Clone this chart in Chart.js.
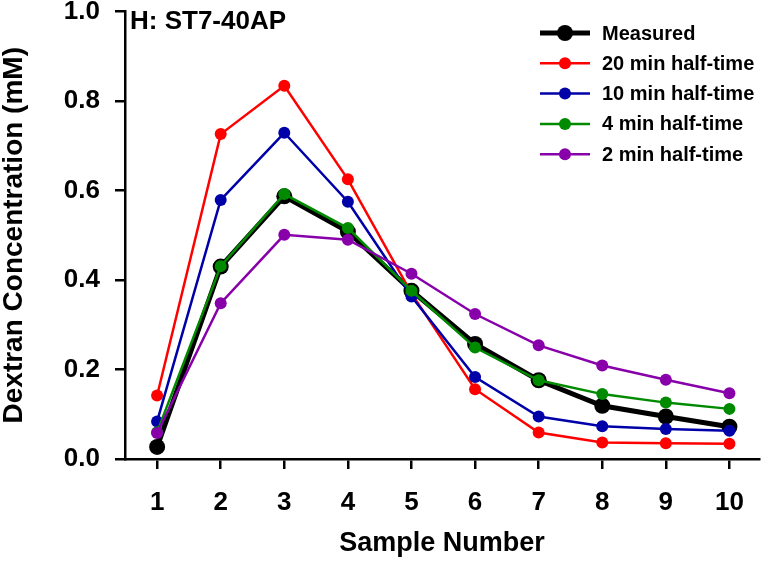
<!DOCTYPE html>
<html>
<head>
<meta charset="utf-8">
<script src="https://cdn.jsdelivr.net/npm/chart.js@4"></script>
<style>
  html, body { margin: 0; padding: 0; background: #fff; }
  #wrap { width: 767px; height: 561px; }
</style>
</head>
<body>
<div id="wrap"><canvas id="myChart" width="767" height="561"></canvas></div>
<script>
const samples = [1, 2, 3, 4, 5, 6, 7, 8, 9, 10];
const measured = [0.027, 0.430, 0.587, 0.508, 0.376, 0.257, 0.176, 0.119, 0.095, 0.072];
const halfTime20 = [0.142, 0.726, 0.834, 0.625, 0.370, 0.156, 0.059, 0.037, 0.035, 0.034];
const halfTime10 = [0.084, 0.579, 0.729, 0.575, 0.363, 0.183, 0.095, 0.073, 0.067, 0.063];
const halfTime4 = [0.060, 0.431, 0.592, 0.516, 0.376, 0.249, 0.176, 0.145, 0.126, 0.112];
const halfTime2 = [0.058, 0.348, 0.501, 0.490, 0.414, 0.324, 0.254, 0.209, 0.177, 0.147];
const yTicks = [0, 0.2, 0.4, 0.6, 0.8, 1.0];

const FONT = "'Liberation Sans', Arial, sans-serif";

function series(label, data, color, thick, order) {
  return {
    label: label,
    data: data,
    borderColor: color,
    backgroundColor: color,
    pointBackgroundColor: color,
    pointBorderColor: color,
    borderWidth: thick ? 5 : 2.5,
    pointRadius: thick ? 8 : 6,
    pointBorderWidth: 0,
    tension: 0,
    order: order,
  };
}

// legend drawn by hand: line with a dot in the middle
const legendPlugin = {
  id: "dotLegend",
  afterDraw(chart) {
    const ctx = chart.ctx;
    ctx.save();
    chart.data.datasets.forEach((ds, i) => {
      const y = 33 + i * 30.3;
      ctx.strokeStyle = ds.borderColor;
      ctx.lineWidth = ds.borderWidth;
      ctx.beginPath();
      ctx.moveTo(540, y);
      ctx.lineTo(590, y);
      ctx.stroke();
      ctx.fillStyle = ds.borderColor;
      ctx.beginPath();
      ctx.arc(565, y, ds.pointRadius, 0, Math.PI * 2);
      ctx.fill();
      ctx.fillStyle = "#000";
      ctx.font = "bold 20px " + FONT;
      ctx.textBaseline = "middle";
      ctx.textAlign = "left";
      ctx.fillText(ds.label, 602, y + 1);
    });
    ctx.font = "bold 26px " + FONT;
    ctx.textBaseline = "alphabetic";
    ctx.fillText("H: ST7-40AP", chart.chartArea.left + 5, 29);
    ctx.restore();
  },
};

new Chart(document.getElementById("myChart"), {
  type: "line",
  data: {
    labels: samples,
    datasets: [
      series("Measured", measured, "#000000", true, 5),
      series("20 min half-time", halfTime20, "#ff0000", false, 4),
      series("10 min half-time", halfTime10, "#0000a8", false, 3),
      series("4 min half-time", halfTime4, "#008a00", false, 2),
      series("2 min half-time", halfTime2, "#8800aa", false, 1),
    ],
  },
  options: {
    responsive: false,
    animation: false,
    devicePixelRatio: 1,
    layout: { padding: { top: 11.5, right: 2, left: 0, bottom: 0 } },
    plugins: {
      legend: { display: false },
      tooltip: { enabled: false },
    },
    scales: {
      x: {
        type: "linear",
        min: 0.495,
        max: 10.465,
        grid: {
          drawOnChartArea: false,
          drawTicks: true,
          tickLength: 10,
          color: "#000",
          lineWidth: 2.5,
        },
        border: { display: true, color: "#000", width: 2.5 },
        afterBuildTicks(axis) {
          axis.ticks = samples.map((v) => ({ value: v }));
        },
        ticks: {
          color: "#000",
          padding: 18,
          maxRotation: 0,
          autoSkip: false,
          callback: (v) => String(v),
          font: { family: FONT, size: 26, weight: "bold" },
        },
        title: {
          display: true,
          text: "Sample Number",
          color: "#000",
          padding: { top: 0, bottom: 4 },
          font: { family: FONT, size: 27, weight: "bold", lineHeight: 1 },
        },
        afterFit(scale) {
          scale.height = 102;
          scale.paddingLeft = 0;
          scale.paddingRight = 0;
        },
      },
      y: {
        min: 0,
        max: 1,
        grid: {
          drawOnChartArea: false,
          drawTicks: true,
          tickLength: 10,
          color: "#000",
          lineWidth: 2.5,
        },
        border: { display: true, color: "#000", width: 2.5 },
        afterBuildTicks(axis) {
          axis.ticks = yTicks.map((v) => ({ value: v }));
        },
        ticks: {
          color: "#000",
          padding: 15,
          callback: (v) => Number(v).toFixed(1),
          font: { family: FONT, size: 26, weight: "bold" },
        },
        title: {
          display: true,
          text: "Dextran Concentration (mM)",
          color: "#000",
          padding: { top: 0, bottom: 0 },
          font: { family: FONT, size: 28, weight: "bold", lineHeight: 1 },
        },
        afterFit(scale) {
          scale.width = 125;
          scale.paddingTop = 0;
          scale.paddingBottom = 0;
        },
      },
    },
  },
  plugins: [legendPlugin],
});
</script>
</body>
</html>
